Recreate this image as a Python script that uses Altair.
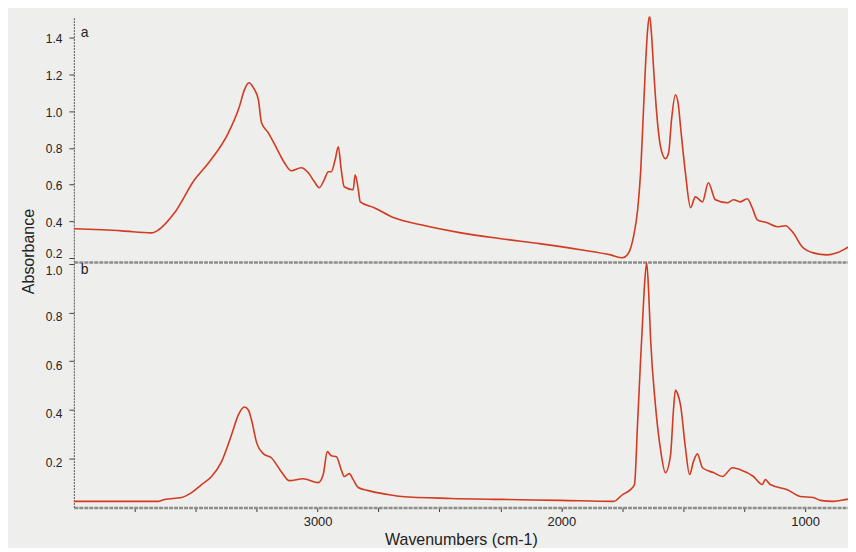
import altair as alt
import pandas as pd

# Panel a spectrum (wavenumber cm-1, absorbance)
wn_a = [4000, 3804, 3681, 3652, 3587, 3505, 3447, 3366, 3321, 3300, 3282, 3263, 3243, 3230,
        3202, 3169, 3136, 3108, 3067, 3038, 3013, 2993, 2973, 2956, 2944, 2928, 2915, 2903,
        2891, 2854, 2846, 2833, 2825, 2768, 2686, 2576, 2412, 2248, 2084, 1921, 1798, 1749,
        1724, 1704, 1687, 1675, 1663, 1655, 1646, 1638, 1630, 1622, 1610, 1593, 1573, 1560,
        1548, 1532, 1520, 1511, 1491, 1470, 1450, 1421, 1397, 1368, 1319, 1294, 1266, 1237,
        1217, 1196, 1155, 1114, 1081, 1049, 1012, 967, 910, 869, 828, 791]
abs_a = [0.359, 0.348, 0.337, 0.354, 0.446, 0.626, 0.719, 0.882, 1.024, 1.117, 1.155, 1.127,
         1.062, 0.937, 0.882, 0.800, 0.719, 0.675, 0.692, 0.664, 0.615, 0.583, 0.626, 0.670,
         0.670, 0.735, 0.806, 0.681, 0.588, 0.572, 0.653, 0.572, 0.506, 0.474, 0.419, 0.381,
         0.337, 0.305, 0.277, 0.245, 0.217, 0.201, 0.228, 0.316, 0.463, 0.664, 1.008, 1.242,
         1.444, 1.520, 1.416, 1.242, 1.008, 0.806, 0.741, 0.773, 0.953, 1.089, 1.035, 0.915,
         0.664, 0.474, 0.533, 0.506, 0.610, 0.517, 0.501, 0.517, 0.506, 0.523, 0.474, 0.408,
         0.392, 0.370, 0.376, 0.337, 0.261, 0.228, 0.217, 0.228, 0.256, 0.283]

# Panel b spectrum
wn_b = [4000, 3652, 3628, 3558, 3517, 3476, 3435, 3394, 3353, 3325, 3300, 3284, 3271, 3251,
        3222, 3190, 3149, 3116, 3059, 2997, 2977, 2960, 2944, 2923, 2903, 2891, 2870, 2854,
        2833, 2792, 2711, 2657, 2453, 2248, 2002, 1785, 1749, 1716, 1700, 1687, 1675, 1667,
        1659, 1650, 1642, 1634, 1614, 1593, 1573, 1552, 1540, 1532, 1524, 1511, 1491, 1474,
        1458, 1442, 1421, 1376, 1339, 1298, 1266, 1212, 1176, 1163, 1143, 1073, 1020, 967,
        938, 885, 828, 791]
abs_b = [0.025, 0.025, 0.033, 0.041, 0.061, 0.094, 0.127, 0.188, 0.298, 0.380, 0.412, 0.400,
         0.359, 0.269, 0.220, 0.204, 0.147, 0.110, 0.118, 0.102, 0.135, 0.229, 0.212, 0.208,
         0.155, 0.127, 0.139, 0.114, 0.082, 0.069, 0.053, 0.045, 0.037, 0.033, 0.029, 0.025,
         0.053, 0.073, 0.094, 0.351, 0.604, 0.759, 0.910, 1.004, 0.889, 0.694, 0.420, 0.237,
         0.143, 0.216, 0.400, 0.482, 0.469, 0.420, 0.245, 0.135, 0.188, 0.220, 0.163, 0.143,
         0.127, 0.163, 0.155, 0.127, 0.094, 0.114, 0.094, 0.073, 0.045, 0.041, 0.029, 0.025,
         0.033, 0.037]

ticks_a = [0.2, 0.4, 0.6, 0.8, 1.0, 1.2, 1.4]
ticks_b = [0.2, 0.4, 0.6, 0.8, 1.0]
x_ticks = [3750, 3500, 3250, 3000, 2750, 2500, 2250, 2000, 1750, 1500, 1250, 1000]

df_a = pd.DataFrame({"wn": wn_a, "abs": abs_a})
df_b = pd.DataFrame({"wn": wn_b, "abs": abs_b})

FONT = "Liberation Sans"
LINE = "#d23a22"
X_DOMAIN = [4000, 824]
W, H = 776, 246

def yaxis(values, **kw):
    return alt.Axis(values=values, format=".1f", grid=False, tickSize=5, labelPadding=7,
                    labelFontSize=12, labelColor="#222", domainColor="#555",
                    domainDash=[2, 1], tickColor="#444", labelFont=FONT, **kw)

top_line = alt.Chart(df_a).mark_line(color=LINE, strokeWidth=1.6, clip=True,
                                     interpolate="monotone").encode(
    x=alt.X("wn:Q", scale=alt.Scale(domain=X_DOMAIN, nice=False, zero=False),
            axis=alt.Axis(title=None, labels=False, ticks=False, grid=False,
                          domainColor="#8e8e8e", domainWidth=2.5, domainDash=[4, 1])),
    y=alt.Y("abs:Q", scale=alt.Scale(domain=[0.178, 1.515], nice=False, zero=False),
            axis=yaxis(ticks_a,
                       labelOffset={"condition": {"test": "datum.value < 0.3", "value": -4},
                                    "value": 1},
                       title="Absorbance", titleY=235,
                       titleFontSize=16, titleFontWeight="normal", titleColor="#222",
                       titleFont=FONT, titlePadding=9)),
)
top_lab = alt.Chart(pd.DataFrame({"t": ["a"]})).mark_text(
    align="left", baseline="middle", fontSize=14, font=FONT, color="#222"
).encode(x=alt.value(7), y=alt.value(16), text="t:N")
top = alt.layer(top_line, top_lab).properties(width=W, height=H)

bot_line = alt.Chart(df_b).mark_line(color=LINE, strokeWidth=1.6, clip=True,
                                     interpolate="monotone").encode(
    x=alt.X("wn:Q", scale=alt.Scale(domain=X_DOMAIN, nice=False, zero=False),
            axis=alt.Axis(values=x_ticks, format="d",
                          labelExpr="datum.value % 1000 == 0 ? datum.label : ''",
                          title="Wavenumbers (cm-1)", titleFontSize=16,
                          titleFontWeight="normal", titleColor="#222", titleFont=FONT,
                          titlePadding=3, labelFontSize=13, labelColor="#222",
                          labelFont=FONT, labelPadding=4, tickSize=4, tickColor="#333",
                          grid=False, domainColor="#8e8e8e", domainWidth=2.5,
                          domainDash=[4, 1])),
    y=alt.Y("abs:Q", scale=alt.Scale(domain=[0.0, 1.007], nice=False, zero=False),
            axis=yaxis(ticks_b,
                       labelOffset={"condition": {"test": "datum.value > 0.9", "value": 7},
                                    "value": 4},
                       title=None)),
)
bot_lab = alt.Chart(pd.DataFrame({"t": ["b"]})).mark_text(
    align="left", baseline="middle", fontSize=14, font=FONT, color="#222"
).encode(x=alt.value(7), y=alt.value(8), text="t:N")
bot = alt.layer(bot_line, bot_lab).properties(width=W, height=H)

chart = alt.vconcat(top, bot, spacing=0, bounds="flush").properties(
    padding={"left": 12, "top": 8, "right": 0, "bottom": 0},
    background="#eeeeec",
).configure_view(stroke=None)

chart.save("out.html", embed_options={"renderer": "svg", "actions": False})
